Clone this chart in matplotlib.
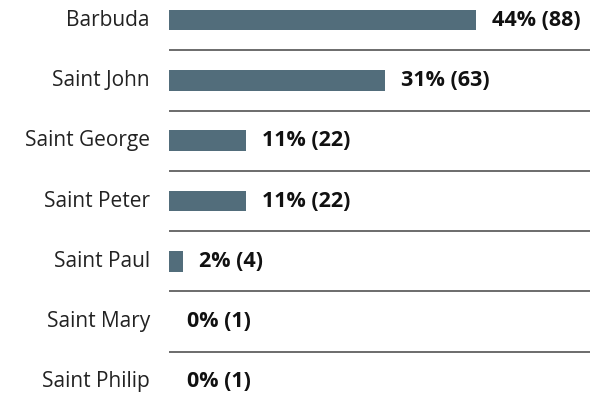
import matplotlib
matplotlib.use("Agg")
import matplotlib.pyplot as plt

categories = ["Barbuda", "Saint John", "Saint George", "Saint Peter",
              "Saint Paul", "Saint Mary", "Saint Philip"]
percents = [44, 31, 11, 11, 2, 0, 0]
counts = [88, 63, 22, 22, 4, 1, 1]

plt.rcParams["font.family"] = ["Open Sans", "DejaVu Sans"]

W, H = 590, 398
fig = plt.figure(figsize=(W / 100, H / 100), dpi=100)
left_px = 169
ax = fig.add_axes([left_px / W, 0, (W - left_px) / W, 1])

row = 60.3
n = len(categories)
ax.set_ylim(n - 1 + (H - 382) / row, -20 / row)
ax.set_xlim(0, (W - left_px) / 6.97)

ys = list(range(n))
ax.barh(ys, percents, height=0.34, color="#526d7b")

for y, p, c in zip(ys, percents, counts):
    ax.annotate(f"{p}% ({c})", (p, y), xytext=(16 if p > 0 else 18, 0),
                textcoords="offset pixels",
                va="center", ha="left", fontsize=15.5, fontweight="bold",
                color="#111111", annotation_clip=False)
    ax.annotate(categories[y], (0, y), xytext=(-19, 0), textcoords="offset pixels",
                va="center", ha="right", fontsize=15, color="#222222",
                annotation_clip=False)

for y in ys[:-1]:
    ax.axhline(y + 0.5, color="#444444", lw=1.1)

ax.axis("off")
fig.savefig("out.png", dpi=100)
